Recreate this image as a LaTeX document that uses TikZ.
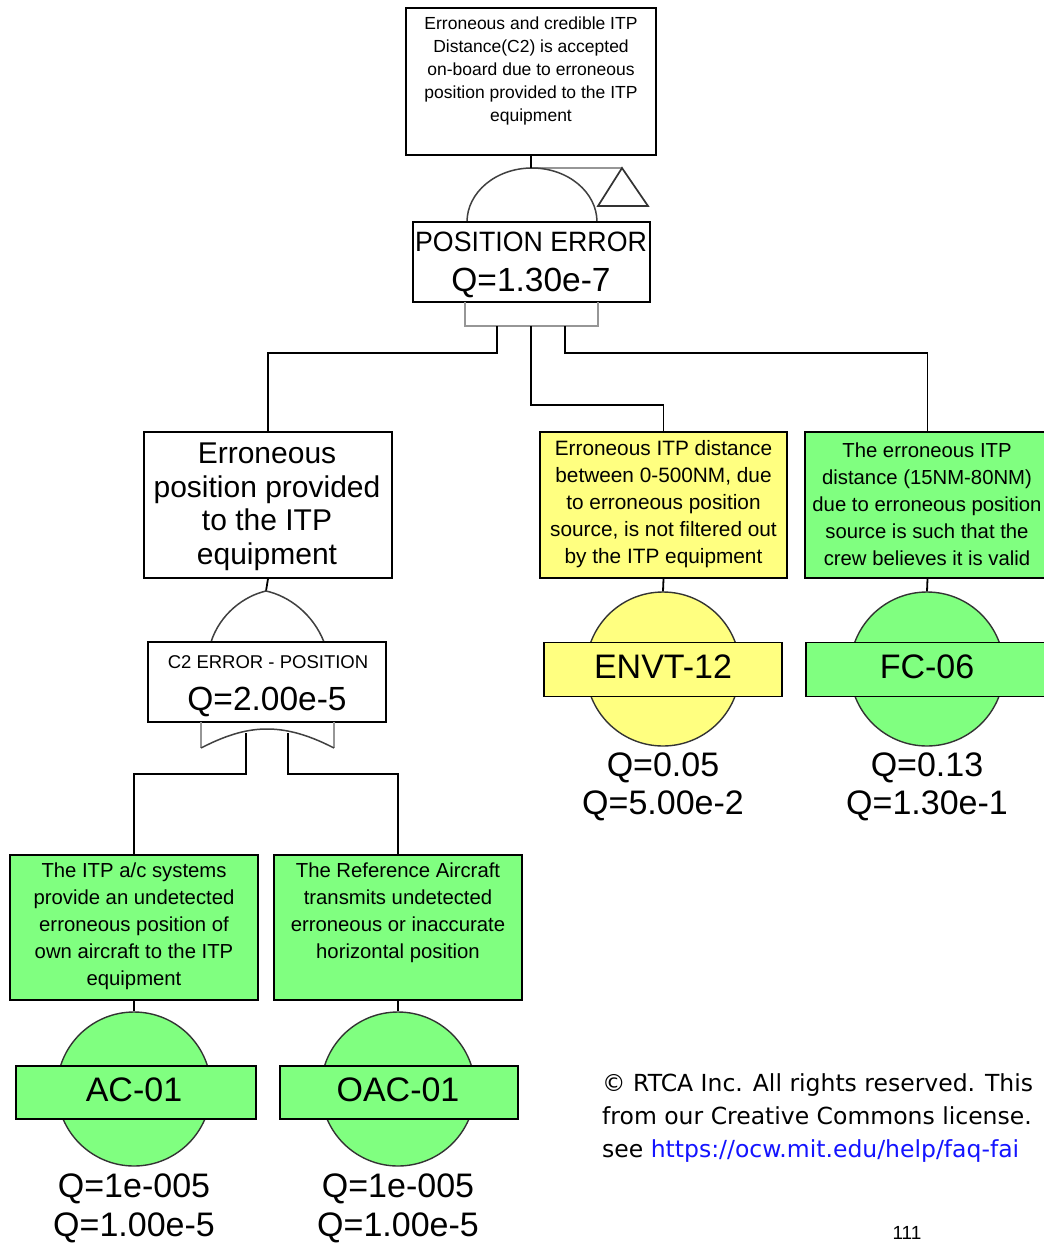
\documentclass[tikz,border=0pt]{standalone}
\usepackage{fontspec}
\setmainfont{Liberation Sans}
\newfontfamily\verd{DejaVu Sans}
\definecolor{evgreen}{RGB}{128,255,128}
\definecolor{evyellow}{RGB}{255,255,128}
\definecolor{gatecol}{RGB}{150,150,150}
\definecolor{linkblue}{RGB}{20,20,255}
\begin{document}
\begin{tikzpicture}[x=1pt,y=-1pt,
  conn/.style={line width=1.8pt, black},
  gatel/.style={line width=1.8pt, gatecol},
  arcl/.style={line width=1.5pt, black!75},
  box/.style={draw, line width=1.8pt, rectangle, inner sep=0pt},
  txt/.style={inner sep=0pt, align=center},
  big/.style={txt, font=\fontsize{34}{40}\selectfont},
  mid/.style={txt, font=\fontsize{20.3}{27}\selectfont},
  foot/.style={inner sep=0pt, anchor=base west, font=\verd\fontsize{23.5}{27}\selectfont},
  evcirc/.style={circle, draw=black!80, line width=1.4pt, minimum size=154pt, inner sep=0pt}]
\useasboundingbox (0,0) rectangle (1044,1243);
\clip (0,0) rectangle (1044,1243);
\fill[white] (0,0) rectangle (1044,1243);

% ---------- top event ----------
\node[box, minimum width=250pt, minimum height=147pt] (top) at (531,81.5) {};
\node[txt, font=\fontsize{17.5}{23}\selectfont] (topT) at (531,71) {Erroneous and credible ITP\\Distance(C2) is accepted\\on-board due to erroneous\\position provided to the ITP\\equipment};

% AND gate + transfer triangle
\coordinate (g1top) at (531,168);
\coordinate (trA) at (622,168);
\draw[gatel] (g1top) -- (trA);
\draw[line width=1.7pt, black!80] (trA) -- (648,206) -- (598,206) -- cycle;
\draw[arcl] (467,222) arc[start angle=180, end angle=0, x radius=65, y radius=-54];
\draw[conn] (top.south) -- (g1top);

\node[box, minimum width=237pt, minimum height=80pt] (pe) at (531.5,262) {};
\node[txt, font=\fontsize{28}{32}\selectfont, xscale=0.955] (peT) at (531,242) {POSITION ERROR};
\node[txt, font=\fontsize{33.5}{38}\selectfont] (peQ) at (531,283) {Q=1.30e-7};

% bracket under AND gate
\draw[gatel] (465,302) -- (465,326) -- (598,326) -- (598,302);
\coordinate (o1) at (497,326);
\coordinate (o2) at (531,326);
\coordinate (o3) at (565,326);

% ---------- second level ----------
\node[box, minimum width=248pt, minimum height=146pt] (lb) at (268,505) {};
\node[txt, font=\fontsize{30}{33.5}\selectfont] (lbT) at (267,507) {Erroneous\\position provided\\to the ITP\\equipment};

\node[box, fill=evyellow, minimum width=247pt, minimum height=146pt] (yb) at (663.5,505) {};
\node[mid, font=\fontsize{20.8}{27}\selectfont] (ybT) at (663.5,504) {Erroneous ITP distance\\between 0-500NM, due\\to erroneous position\\source, is not filtered out\\by the ITP equipment};

\node[box, fill=evgreen, minimum width=245pt, minimum height=146pt] (fb) at (927.5,505) {};
\node[mid] (fbT) at (927,504) {The erroneous ITP\\distance (15NM-80NM)\\due to erroneous position\\source is such that the\\crew believes it is valid};

\draw[conn] (o1) -- ++(0,27) -| (lb.north);
\draw[conn] (o2) -- ++(0,79) -| (yb.north);
\draw[conn] (o3) -- ++(0,27) -| (fb.north);

% ---------- ENVT-12 ----------
\node[evcirc, fill=evyellow] (yc) at (663,669) {};
\draw[conn] (yb.south) -- (yc.north);
\node[box, fill=evyellow, minimum width=238pt, minimum height=54pt] (ycL) at (663,669.5) {};
\node[big] (ycT) at (663,667) {ENVT-12};
\node[big] (ycQ1) at (663,768) {Q=0.05};
\node[big] (ycQ2) at (663,806) {Q=5.00e-2};

% ---------- FC-06 ----------
\node[evcirc, fill=evgreen] (fc) at (927,669) {};
\draw[conn] (fb.south) -- (fc.north);
\node[box, fill=evgreen, minimum width=244pt, minimum height=54pt] (fcL) at (928,669.5) {};
\node[big] (fcT) at (927,667) {FC-06};
\node[big] (fcQ1) at (927,768) {Q=0.13};
\node[big] (fcQ2) at (927,806) {Q=1.30e-1};

% ---------- OR gate C2 ----------
\coordinate (g2top) at (266,591);
\draw[conn] (lb.south) -- (g2top);
\draw[arcl] (211,642) .. controls (220,614) and (244,596) .. (g2top) .. controls (289,596) and (313,614) .. (324,642);

\node[box, minimum width=238pt, minimum height=80pt] (c2) at (267,682) {};
\node[txt, font=\fontsize{18.5}{22}\selectfont] (c2T) at (268,662) {C2 ERROR - POSITION};
\node[txt, font=\fontsize{33.5}{38}\selectfont] (c2Q) at (267,702) {Q=2.00e-5};

% OR gate bottom
\draw[gatel] (201,722) -- (201,748);
\draw[gatel] (334,722) -- (334,748);
\draw[arcl] (201,748) .. controls (230,733) and (250,729) .. (267,729) .. controls (284,729) and (305,733) .. (334,748);
\coordinate (q1) at (246,733);
\coordinate (q2) at (288,733);

% ---------- bottom events ----------
\node[box, fill=evgreen, minimum width=248pt, minimum height=145pt] (ab) at (134,927.5) {};
\node[mid] (abT) at (134,926) {The ITP a/c systems\\provide an undetected\\erroneous position of\\own aircraft to the ITP\\equipment};
\node[box, fill=evgreen, minimum width=248pt, minimum height=145pt] (ob) at (398,927.5) {};
\node[mid] (obT) at (398,912.5) {The Reference Aircraft\\transmits undetected\\erroneous or inaccurate\\horizontal position};

\draw[conn] (q1) -- ++(0,41) -| (ab.north);
\draw[conn] (q2) -- ++(0,41) -| (ob.north);

\node[evcirc, fill=evgreen] (ac) at (134,1089) {};
\draw[conn] (ab.south) -- (ac.north);
\node[box, fill=evgreen, minimum width=240pt, minimum height=53pt] (acL) at (136,1092.5) {};
\node[big] (acT) at (134,1090) {AC-01};
\node[big] (acQ1) at (134,1189) {Q=1e-005};
\node[big] (acQ2) at (134,1228) {Q=1.00e-5};

\node[evcirc, fill=evgreen] (oc) at (398,1089) {};
\draw[conn] (ob.south) -- (oc.north);
\node[box, fill=evgreen, minimum width=238pt, minimum height=53pt] (ocL) at (399,1092.5) {};
\node[big] (ocT) at (398,1090) {OAC-01};
\node[big] (ocQ1) at (398,1189) {Q=1e-005};
\node[big] (ocQ2) at (398,1228) {Q=1.00e-5};

% ---------- footer ----------
\node[foot] (cp1) at (602,1091) {© RTCA Inc. All rights reserved. This};
\node[foot] (cp2) at (602,1124) {from our Creative Commons license.};
\node[foot] (cp3) at (602,1157) {see \textcolor{linkblue}{https://ocw.mit.edu/help/faq-fai}};
\node[inner sep=0pt, anchor=base, font=\fontsize{19}{21}\selectfont] (pg) at (907,1239.5) {111};
\end{tikzpicture}
\end{document}
